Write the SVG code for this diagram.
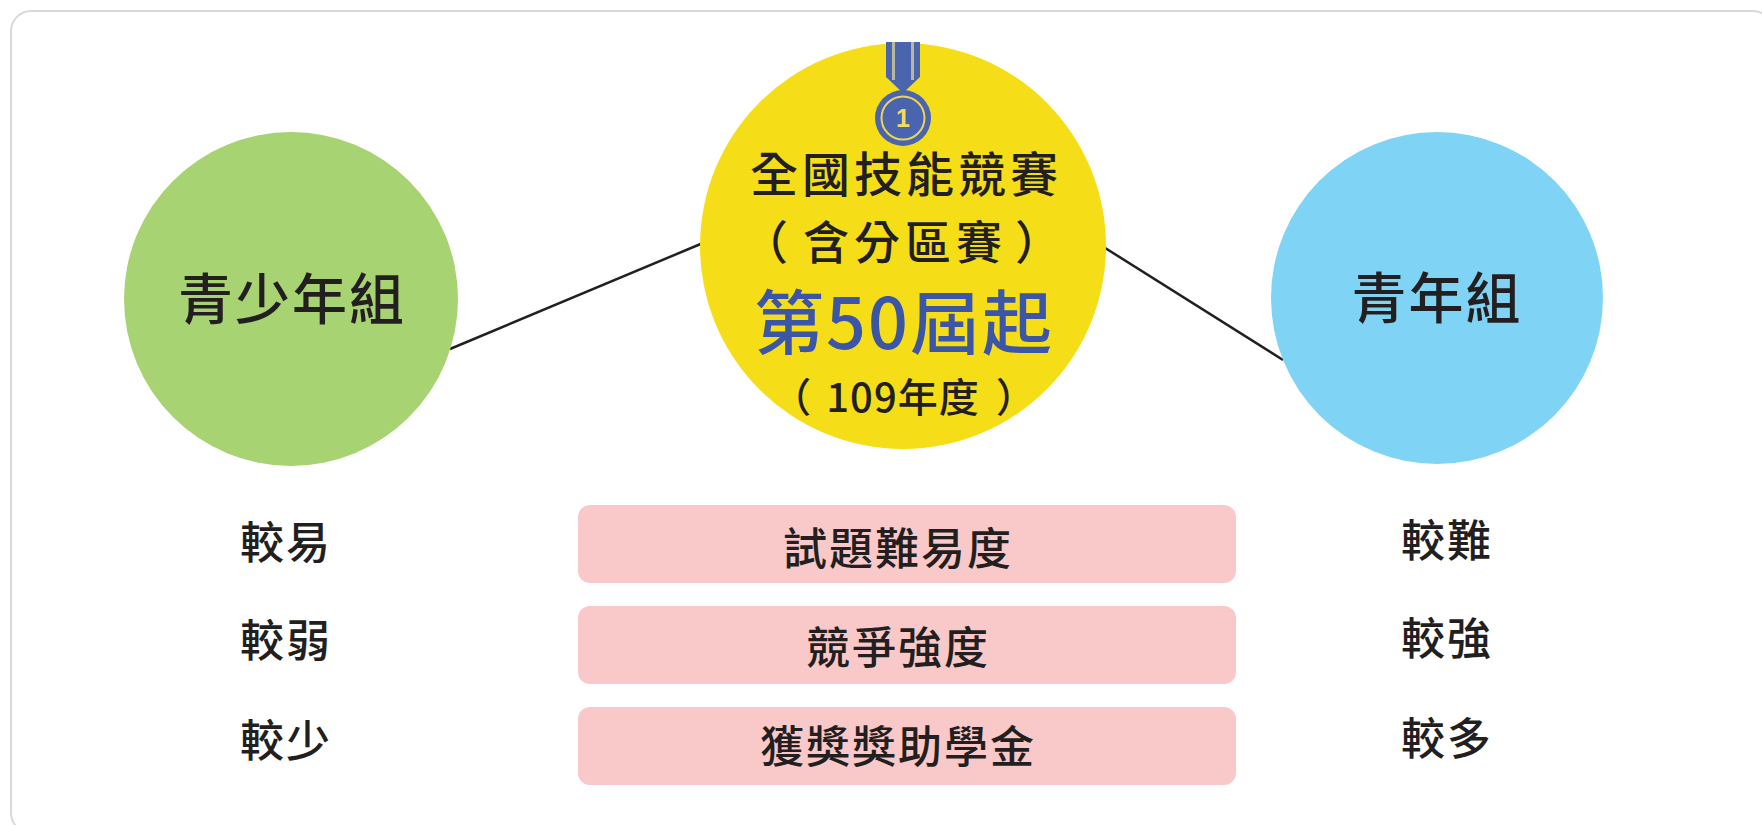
<svg xmlns="http://www.w3.org/2000/svg" width="1762" height="825" viewBox="0 0 1762 825">
<style>
  text { font-family: "Noto Sans CJK TC", "Noto Sans CJK SC", "Noto Sans", sans-serif; fill: #231f20; text-anchor: middle; font-weight: 500; }
  .big { font-size: 55px; letter-spacing: 2px; }
  .mid { font-size: 48px; letter-spacing: 4px; }
  .lab { font-size: 44px; letter-spacing: 2px; }
  .bar { fill: #f9c9ca; }
  .conn { stroke: #231f20; stroke-width: 2.5; fill: none; }
</style>
<rect x="0" y="0" width="1762" height="825" fill="#ffffff"/>
<rect x="11" y="11" width="1762" height="822" rx="20" ry="20" fill="#ffffff" stroke="#d9d9d9" stroke-width="2"/>

<g id="connectors">
  <line class="conn" x1="450" y1="349" x2="703" y2="243"/>
  <line class="conn" x1="1102" y1="246" x2="1283" y2="360"/>
</g>

<g id="node-junior">
  <circle cx="291" cy="299" r="167" fill="#a8d373"/>
  <text class="big" x="292" y="319">青少年組</text>
</g>

<g id="node-center">
  <circle cx="903" cy="246" r="203" fill="#f5de17"/>
  <g id="medal">
    <path d="M886 42 H920 V77 L903 93 L886 77 Z" fill="#4a64ae"/>
    <rect x="892" y="42" width="3" height="38" fill="#b9b79a"/>
    <rect x="911" y="42" width="3" height="38" fill="#b9b79a"/>
    <circle cx="903" cy="118" r="28" fill="#4a64ae"/>
    <circle cx="903" cy="118" r="21.5" fill="none" stroke="#ecd35a" stroke-width="2"/>
    <text x="903" y="127" style="font-family:'Liberation Sans',sans-serif;font-size:25px;font-weight:bold;fill:#f3dc5c;letter-spacing:0">1</text>
  </g>
  <text class="mid" x="906" y="192">全國技能競賽</text>
  <text x="904" y="259" style="font-size:46px;letter-spacing:5px"><tspan>（</tspan><tspan dx="10">含分區賽</tspan><tspan dx="8">）</tspan></text>
  <text x="904" y="349" style="font-size:70px;fill:#3b56a6;letter-spacing:2px">第50屆起</text>
  <text x="904" y="412" style="font-size:40px;letter-spacing:1px"><tspan>（</tspan><tspan dx="14">109年度</tspan><tspan dx="16">）</tspan></text>
</g>

<g id="node-youth">
  <circle cx="1437" cy="298" r="166" fill="#7fd3f5"/>
  <text class="big" x="1437" y="318">青年組</text>
</g>

<g id="row-difficulty">
  <rect class="bar" x="578" y="505" width="658" height="78" rx="12" ry="12"/>
  <text class="lab" x="898" y="565">試題難易度</text>
  <text class="lab" x="286" y="559">較易</text>
  <text class="lab" x="1447" y="557">較難</text>
</g>

<g id="row-competition">
  <rect class="bar" x="578" y="606" width="658" height="78" rx="12" ry="12"/>
  <text class="lab" x="898" y="664">競爭強度</text>
  <text class="lab" x="286" y="657">較弱</text>
  <text class="lab" x="1447" y="655">較強</text>
</g>

<g id="row-scholarship">
  <rect class="bar" x="578" y="707" width="658" height="78" rx="12" ry="12"/>
  <text class="lab" x="898" y="763">獲獎獎助學金</text>
  <text class="lab" x="286" y="757">較少</text>
  <text class="lab" x="1447" y="755">較多</text>
</g>
</svg>
